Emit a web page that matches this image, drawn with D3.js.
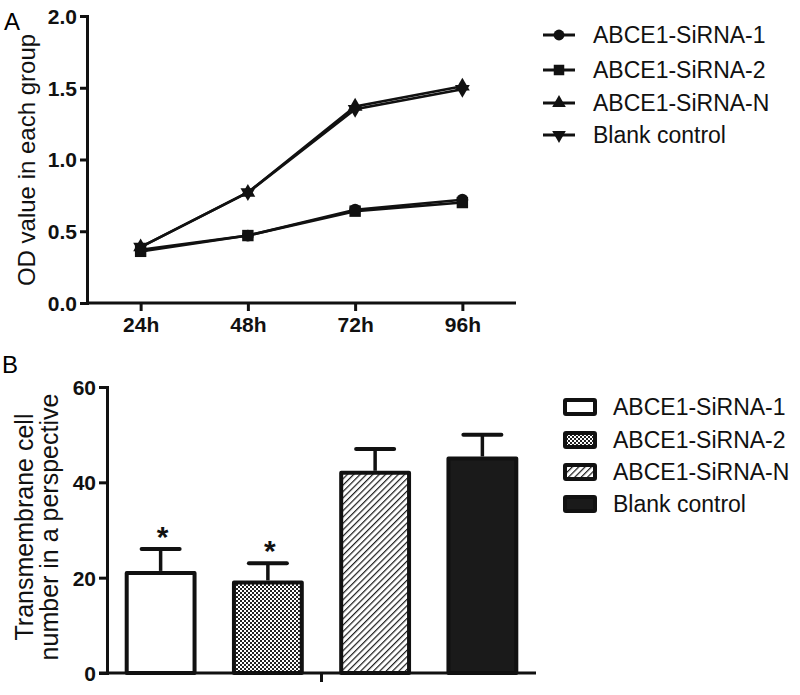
<!DOCTYPE html>
<html><head><meta charset="utf-8">
<script src="https://cdn.jsdelivr.net/npm/d3@7"></script>
<style>body{margin:0;background:#fff}svg{display:block}text{font-family:"Liberation Sans",Arial,sans-serif}</style>
</head><body>
<svg id="c" width="800" height="695"></svg>
<script>
// ---- data ----
const timepoints = ["24h","48h","72h","96h"];
const lineSeries = ["ABCE1-SiRNA-1","ABCE1-SiRNA-2","ABCE1-SiRNA-N","Blank control"];
const odSiRNA1 = [0.37,0.47,0.65,0.72];
const odSiRNA2 = [0.36,0.47,0.64,0.70];
const odSiRNAN = [0.39,0.77,1.37,1.51];
const odBlank  = [0.39,0.77,1.35,1.49];
const odTicks = [0.0,0.5,1.0,1.5,2.0];
const barGroups = ["ABCE1-SiRNA-1","ABCE1-SiRNA-2","ABCE1-SiRNA-N","Blank control"];
const cellMeans = [21,19,42,45];
const cellErrors = [5,4,5,5];
const cellSignif = [true,true,false,false];
const cellTicks = [0,20,40,60];

const svg = d3.select("#c");
const defs = svg.append("defs");
// checker pattern
const chk = defs.append("pattern").attr("id","chk").attr("patternUnits","userSpaceOnUse").attr("width",4).attr("height",4);
chk.append("rect").attr("width",4).attr("height",4).attr("fill","#fff");
chk.append("rect").attr("width",2).attr("height",2).attr("fill","#222");
chk.append("rect").attr("x",2).attr("y",2).attr("width",2).attr("height",2).attr("fill","#222");
// hatch pattern
const hat = defs.append("pattern").attr("id","hat").attr("patternUnits","userSpaceOnUse").attr("width",4.5).attr("height",4.5).attr("patternTransform","rotate(45)");
hat.append("rect").attr("width",4.5).attr("height",4.5).attr("fill","#fff");
hat.append("line").attr("x1",0).attr("y1",0).attr("x2",0).attr("y2",4.5).attr("stroke","#1a1a1a").attr("stroke-width",2.4);

// ---------------- Panel A ----------------
svg.append("text").attr("x",4).attr("y",30).attr("font-size",24).text("A");
const xA = d3.scalePoint().domain(timepoints).range([87,516]).padding(0.5);
const yA = d3.scaleLinear().domain([0,2]).range([303,16]);
const gA = svg.append("g");
const axYA = gA.append("g").attr("transform","translate(87,0)")
  .call(d3.axisLeft(yA).tickValues(odTicks).tickFormat(d3.format(".1f")).tickSizeOuter(0).tickSize(7).tickPadding(3));
const axXA = gA.append("g").attr("transform","translate(0,303)")
  .call(d3.axisBottom(xA).tickSizeOuter(0).tickSize(8).tickPadding(6));
axXA.select(".domain").attr("d","M86,0H516");
[axYA,axXA].forEach(a=>{
  a.selectAll(".domain,line").attr("stroke","#111").attr("stroke-width",3);
  a.selectAll("text").attr("font-size",21).attr("font-weight","bold").attr("fill","#111")
   .attr("font-family","'Liberation Sans',Arial,sans-serif");
});
axYA.selectAll("text").attr("dy","0.35em");
svg.append("text").attr("transform","translate(35,160) rotate(-90)").attr("text-anchor","middle")
  .attr("font-size",24).attr("fill","#111").text("OD value in each group");

const allOD = [odSiRNA1,odSiRNA2,odSiRNAN,odBlank];
const symbols = [d3.symbolCircle,d3.symbolSquare,d3.symbolTriangle,d3.symbolTriangle];
const symSizes = [110,130,95,95];
const line = d3.line().x((d,i)=>xA(timepoints[i])).y(d=>yA(d));
allOD.forEach((s,k)=>{
  gA.append("path").attr("d",line(s)).attr("fill","none").attr("stroke","#111").attr("stroke-width",2.6);
});
allOD.forEach((s,k)=>{
  gA.selectAll(null).data(s).enter().append("path")
    .attr("d",d3.symbol().type(symbols[k]).size(symSizes[k]))
    .attr("transform",(d,i)=>`translate(${xA(timepoints[i])},${yA(d)})${k===3?" rotate(180)":""}`)
    .attr("fill","#111");
});
// legend A
const legA = svg.append("g");
const legAy = [35,70,103,135];
lineSeries.forEach((name,k)=>{
  const g = legA.append("g").attr("transform",`translate(0,${legAy[k]})`);
  g.append("line").attr("x1",543).attr("x2",575).attr("stroke","#111").attr("stroke-width",3);
  g.append("path").attr("d",d3.symbol().type(symbols[k]).size(symSizes[k]*0.85)())
    .attr("transform",`translate(559,0)${k===3?" rotate(180)":""}`).attr("fill","#111");
  g.append("text").attr("x",593).attr("y",8).attr("font-size",23).attr("fill","#111").text(name);
});

// ---------------- Panel B ----------------
svg.append("text").attr("x",2).attr("y",373).attr("font-size",24).text("B");
const xB = d3.scaleBand().domain(barGroups).range([107,536]).paddingInner(0.33).paddingOuter(0.165);
const yB = d3.scaleLinear().domain([0,60]).range([673,387]);
const gB = svg.append("g");
const fills = ["#fff","url(#chk)","url(#hat)","#1a1a1a"];
gB.selectAll(".bar").data(cellMeans).enter().append("rect")
  .attr("x",(d,i)=>xB(barGroups[i])+2).attr("width",xB.bandwidth()-4)
  .attr("y",d=>yB(d)).attr("height",d=>yB(0)-yB(d))
  .attr("fill",(d,i)=>fills[i]).attr("stroke","#111").attr("stroke-width",4).attr("stroke-linejoin","round");
// error bars
cellMeans.forEach((m,i)=>{
  const cx = xB(barGroups[i])+xB.bandwidth()/2;
  gB.append("line").attr("x1",cx).attr("x2",cx).attr("y1",yB(m)-2).attr("y2",yB(m+cellErrors[i]))
    .attr("stroke","#111").attr("stroke-width",3.5);
  gB.append("line").attr("x1",cx-19).attr("x2",cx+19).attr("y1",yB(m+cellErrors[i])).attr("y2",yB(m+cellErrors[i]))
    .attr("stroke","#111").attr("stroke-width",4).attr("stroke-linecap","round");
  if(cellSignif[i]){
    gB.append("text").attr("x",cx+2).attr("y",yB(m+cellErrors[i])-2).attr("text-anchor","middle")
      .attr("font-size",30).attr("font-weight","bold").attr("fill","#111").text("*");
  }
});
const axYB = gB.append("g").attr("transform","translate(107,0)")
  .call(d3.axisLeft(yB).tickValues(cellTicks).tickSizeOuter(0).tickSize(8).tickPadding(3));
const axXB = gB.append("g").attr("transform","translate(0,673)");
axXB.append("path").attr("class","domain").attr("d","M99,0H536");
axXB.append("line").attr("x1",(107+536)/2).attr("x2",(107+536)/2).attr("y1",0).attr("y2",9);
[axYB,axXB].forEach(a=>{
  a.selectAll(".domain,line").attr("stroke","#111").attr("stroke-width",3).attr("fill","none");
  a.selectAll("text").attr("font-size",21).attr("font-weight","bold").attr("fill","#111")
   .attr("font-family","'Liberation Sans',Arial,sans-serif");
});
axYB.selectAll("text").attr("dy","0.35em");
const tB = svg.append("text").attr("transform","translate(33,527) rotate(-90)").attr("text-anchor","middle")
  .attr("font-size",25).attr("fill","#111");
tB.append("tspan").attr("x",0).attr("dy",0).text("Transmembrane cell");
tB.append("tspan").attr("x",0).attr("dy",25).text("number in a perspective");
// legend B
const legBy = [407,440,472,504];
barGroups.forEach((name,k)=>{
  const g = svg.append("g").attr("transform",`translate(0,${legBy[k]})`);
  g.append("rect").attr("x",565).attr("y",-7).attr("width",30).attr("height",14)
    .attr("fill",fills[k]).attr("stroke","#111").attr("stroke-width",4).attr("rx",1);
  g.append("text").attr("x",613).attr("y",8).attr("font-size",23).attr("fill","#111").text(name);
});
</script>
</body></html>
